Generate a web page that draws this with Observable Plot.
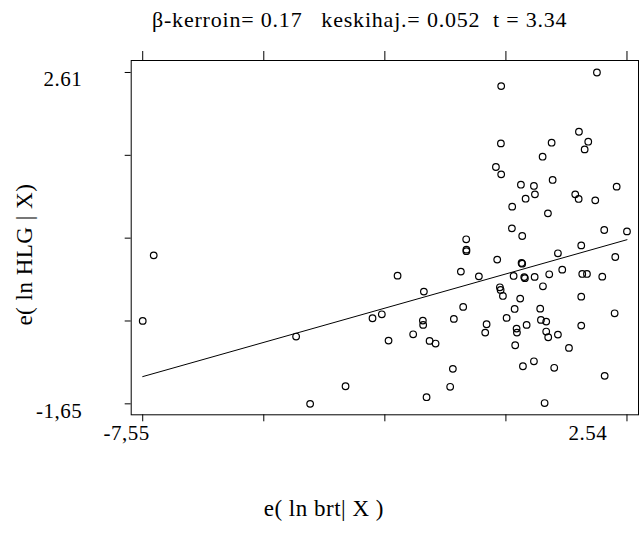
<!DOCTYPE html>
<html><head><meta charset="utf-8">
<script src="https://cdn.jsdelivr.net/npm/d3@7"></script>
<script src="https://cdn.jsdelivr.net/npm/@observablehq/plot@0.6"></script>
<style>
body{margin:0;background:#fff;width:639px;height:545px;overflow:hidden;font-family:"Liberation Serif",serif;}
#title{height:45px;position:relative;}
#title span{position:absolute;left:152px;top:7px;font-size:22px;line-height:26px;letter-spacing:0.8px;white-space:pre;color:#000;font-family:"Liberation Serif",serif;}
#chart svg{display:block;}
</style></head><body>
<div id="title"><span id="t"></span></div>
<div id="chart"></div>
<script>
const title = "β-kerroin= 0.17   keskihaj.= 0.052  t = 3.34";
const xLabel = "e( ln brt| X )";
const yLabel = "e( ln HLG | X)";

// residual x values  e(ln brt | X)
const xs = [1.914,-0.081,1.539,1.733,0.970,-0.087,1.658,0.782,-0.191,-0.081,
  0.991,2.325,0.330,0.601,0.622,0.428,1.462,1.533,1.879,0.148,
  0.893,0.142,2.066,2.54,0.357,-0.810,1.587,-0.806,-0.806,1.101,
  -0.164,0.344,0.357,-2.240,-0.921,-0.546,0.178,0.399,0.413,0.616,
  0.920,1.191,1.608,1.706,2.025,2.296,-1.692,-0.108,-0.093,-0.045,
  0.789,0.315,1.587,-2.762,-2.568,-2.428,-1.713,-1.707,-1.915,-1.573,
  -1.448,-0.873,-1.067,-0.385,-0.414,0.199,0.032,0.240,0.247,0.211,
  0.449,0.732,0.747,0.857,0.857,0.899,1.101,1.331,1.587,2.283,
  -1.088,-1.144,-1.636,0.372,0.601,1.024,0.824,2.075,-7.55,-7.321,
  -4.354,-4.062,-3.324];
// residual y values  e(ln HLG | X)
const ys = [2.61,2.435,1.848,1.720,1.707,1.698,1.621,1.527,1.395,1.300,
  1.228,1.142,1.167,1.151,1.043,0.987,1.043,0.984,0.966,0.885,
  0.799,0.606,0.585,0.567,0.508,0.465,0.387,0.332,0.313,0.285,
  0.204,0.161,0.152,-0.002,0.050,-0.011,-0.006,-0.021,-0.034,-0.018,
  0.015,0.075,0.020,0.020,-0.015,0.238,-0.207,-0.152,-0.186,-0.263,
  -0.139,-0.297,-0.272,-0.550,-0.499,-0.837,-0.580,-0.635,-0.756,-0.841,
  -0.875,-0.404,-0.558,-0.627,-0.734,-0.430,-0.545,-0.683,-0.734,-0.897,
  -0.635,-0.426,-0.571,-0.593,-0.721,-0.794,-0.760,-0.931,-0.644,-0.486,
  -1.200,-1.431,-1.565,-1.167,-1.103,-1.187,-1.64,-1.290,-0.584,0.259,
  -0.785,-1.65,-1.424];

// fitted regression line end points
const lineX = [-7.55, 2.54];
const lineY = [-1.30, 0.46];

const xTicks = [-7.55, -5.0275, -2.505, 0.0175, 2.54];
const yTicks = [2.61, 1.545, 0.48, -0.585, -1.65];
const xTickLabels = ["-7,55", "", "", "", "2.54"];
const yTickLabels = ["2.61", "", "", "", "-1,65"];

document.getElementById("t").textContent = title;

const pts = xs.map((x, i) => ({x, y: ys[i]}));
const fit = lineX.map((x, i) => ({x, y: lineY[i]}));
const serif = "'Liberation Serif', serif";

const chart = Plot.plot({
  width: 639, height: 500,
  marginLeft: 130.7, marginRight: 1, marginTop: 15, marginBottom: 130.7,
  style: {fontFamily: serif, fontSize: "21px", letterSpacing: "0.5px", color: "black", background: "white"},
  x: {domain: [-7.79, 2.78], axis: null, label: null},
  y: {domain: [-1.791, 2.764], axis: null, label: null},
  marks: [
    Plot.frame({stroke: "black", strokeWidth: 1}),
    Plot.axisY(yTicks, {anchor: "left", tickSize: 6, tickFormat: () => "", label: null}),
    Plot.axisY([yTicks[0]], {anchor: "left", tickSize: 0, tickPadding: 49, dy: 7, fontSize: 21, tickFormat: () => yTickLabels[0], label: null}),
    Plot.axisY([yTicks[4]], {anchor: "left", tickSize: 0, tickPadding: 49, dy: 7, fontSize: 21, tickFormat: () => yTickLabels[4], label: null}),
    Plot.axisX(xTicks, {anchor: "bottom", tickSize: 7, tickFormat: () => "", label: null}),
    Plot.axisX(xTicks, {anchor: "top", tickSize: 10, tickFormat: () => "", label: null}),
    Plot.axisX([xTicks[0]], {anchor: "bottom", tickSize: 0, tickPadding: 10, dx: -16, fontSize: 21, tickFormat: () => xTickLabels[0], label: null}),
    Plot.axisX([xTicks[4]], {anchor: "bottom", tickSize: 0, tickPadding: 10, dx: -39, fontSize: 21, tickFormat: () => xTickLabels[4], label: null}),
    Plot.line(fit, {x: "x", y: "y", stroke: "black", strokeWidth: 1}),
    Plot.dot(pts, {x: "x", y: "y", r: 3.3, stroke: "black", strokeWidth: 1.2, fill: "none"}),
    Plot.text([xLabel], {frameAnchor: "bottom", text: d => d, dx: -61, dy: 94, textAnchor: "middle", lineAnchor: "middle", fontSize: 23}),
    Plot.text([yLabel], {frameAnchor: "left", text: d => d, rotate: -90, dx: -106.7, dy: 17, textAnchor: "middle", lineAnchor: "middle", fontSize: 23})
  ]
});
document.getElementById("chart").appendChild(chart);
</script>
</body></html>
